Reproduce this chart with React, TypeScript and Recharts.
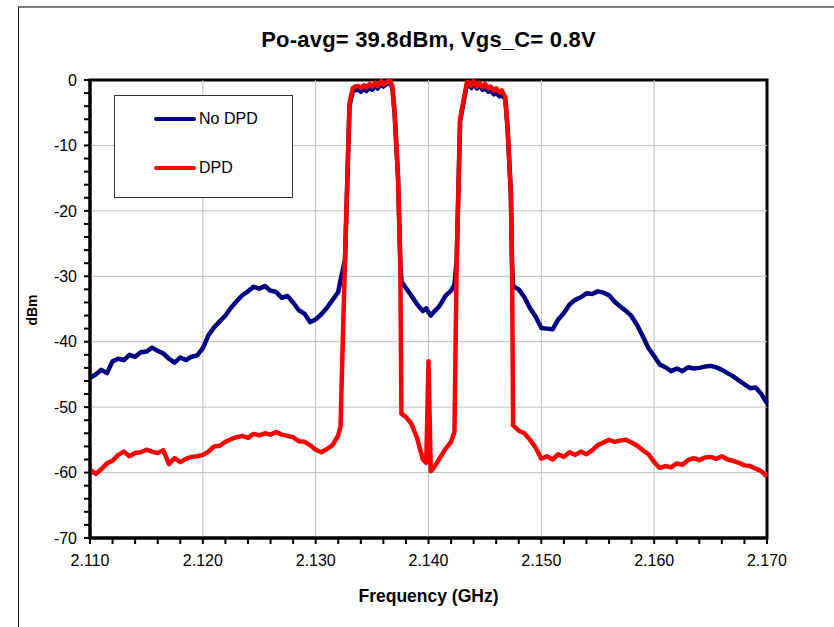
import React from 'react';
import { LineChart, Line, XAxis, YAxis, ReferenceLine, ReferenceArea } from 'recharts';

// frequency grid (GHz) - denser at the channel edges
const FREQ_GHZ = [
  2.110, 2.1105, 2.111, 2.1115, 2.112, 2.1125, 2.113, 2.1135, 2.114, 2.1145,
  2.115, 2.1155, 2.116, 2.1165, 2.117, 2.1175, 2.118, 2.1185, 2.119, 2.1195,
  2.120, 2.1205, 2.121, 2.1215, 2.122, 2.1225, 2.123, 2.1235, 2.124, 2.1245,
  2.125, 2.1255, 2.126, 2.1265, 2.127, 2.1275, 2.128, 2.1285, 2.129, 2.1295,
  2.130, 2.1305, 2.131, 2.1315, 2.132,
  2.1322, 2.1326, 2.1330, 2.1333,
  2.1335, 2.1338, 2.1340, 2.1343, 2.1345, 2.1348, 2.1350, 2.1353, 2.1355, 2.1358, 2.1360, 2.1363, 2.1366,
  2.1368, 2.1370, 2.1373, 2.1375, 2.1376,
  2.1380, 2.1385, 2.1390, 2.1395, 2.1398, 2.1400, 2.1402, 2.1405, 2.1410, 2.1415, 2.1420, 2.1423,
  2.1425, 2.1428, 2.1431, 2.1434,
  2.1435, 2.1438, 2.1440, 2.1443, 2.1445, 2.1448, 2.1450, 2.1453, 2.1455, 2.1458, 2.1460, 2.1463, 2.1465,
  2.1468, 2.1470, 2.1473, 2.1474, 2.1475,
  2.148, 2.1485, 2.149, 2.1495, 2.150, 2.1505, 2.151, 2.1515, 2.152, 2.1525,
  2.153, 2.1535, 2.154, 2.1545, 2.155, 2.1555, 2.156, 2.1565, 2.157, 2.1575,
  2.158, 2.1585, 2.159, 2.1595, 2.160, 2.1605, 2.161, 2.1615, 2.162, 2.1625,
  2.163, 2.1635, 2.164, 2.1645, 2.165, 2.1655, 2.166, 2.1665, 2.167, 2.1675,
  2.168, 2.1685, 2.169, 2.1695, 2.170,
];

const NO_DPD_DBM = [
  -45.5, -45.0, -44.3, -44.8, -43.0, -42.6, -42.8, -42.0, -42.3, -41.6,
  -41.5, -40.9, -41.4, -41.8, -42.6, -43.2, -42.4, -42.8, -42.3, -42.1,
  -41.0, -39.0, -37.8, -36.9, -36.0, -34.8, -33.8, -32.9, -32.3, -31.6,
  -31.9, -31.5, -32.2, -32.4, -33.3, -33.0, -34.0, -35.2, -35.7, -37.0,
  -36.6, -35.8, -34.8, -33.6, -32.4,
  -30.6, -27.5, -4.0, -1.6,
  -1.6, -1.4, -1.8, -1.3, -1.7, -1.1, -1.5, -0.9, -1.3, -0.6, -1.0, -0.6, -0.4,
  -1.3, -5.3, -15.0, -28.0, -30.8,
  -31.8, -33.0, -34.3, -35.3, -34.9, -35.5, -36.0, -35.4, -34.5, -33.0, -32.2, -31.3,
  -27.5, -6.3, -3.5, -0.7,
  -0.6, -1.2, -0.6, -1.3, -0.8, -1.5, -1.2, -1.8, -1.6, -2.2, -2.0, -2.5, -2.3,
  -2.9, -7.2, -17.3, -28.0, -31.5,
  -32.0, -33.2, -34.9, -36.2, -37.9, -38.0, -38.1, -36.6, -35.6, -34.3,
  -33.6, -33.2, -32.6, -32.7, -32.3, -32.5, -32.9, -33.9, -34.6, -35.3,
  -36.1, -37.5, -39.2, -41.0, -42.2, -43.5, -43.9, -44.5, -44.1, -44.5,
  -43.9, -44.1, -44.0, -43.8, -43.7, -43.9, -44.3, -44.8, -45.3, -45.9,
  -46.5, -47.1, -47.0, -48.0, -49.4,
];

const DPD_DBM = [
  -59.6, -60.2, -59.5, -58.6, -58.2, -57.3, -56.8, -57.5, -57.0, -56.9,
  -56.5, -56.8, -57.0, -56.6, -58.7, -57.8, -58.4, -57.9, -57.6, -57.5,
  -57.3, -56.8, -56.0, -55.9, -55.3, -54.9, -54.6, -54.4, -54.7, -54.1,
  -54.3, -54.0, -54.2, -53.8, -54.2, -54.4, -54.6, -55.2, -55.3, -55.8,
  -56.5, -56.9, -56.4, -55.8, -54.3,
  -53.0, -27.5, -3.5, -1.2,
  -1.0, -0.9, -1.2, -0.8, -1.1, -0.6, -1.0, -0.4, -0.9, -0.2, -0.7, -0.3, -0.1,
  -1.0, -5.0, -14.8, -28.0, -51.0,
  -51.5, -52.6, -54.8, -58.0, -58.5, -43.0, -59.8, -59.2, -57.8, -56.4, -55.3, -53.8,
  -27.5, -6.0, -3.2, -0.4,
  -0.3, -0.9, -0.2, -1.0, -0.4, -1.1, -0.6, -1.3, -1.0, -1.6, -1.3, -1.9, -1.6,
  -2.6, -7.0, -17.3, -28.0, -52.8,
  -53.6, -54.0, -55.0, -56.2, -57.9, -57.5, -58.0, -57.2, -57.6, -56.9,
  -57.3, -56.8, -57.2, -56.6, -55.8, -55.4, -55.0, -55.3, -55.1, -55.0,
  -55.4, -55.9, -56.6, -57.2, -58.4, -59.3, -59.0, -59.2, -58.6, -58.8,
  -58.1, -57.8, -58.1, -57.7, -57.6, -57.9, -57.5, -58.0, -58.2, -58.5,
  -58.9, -59.0, -59.4, -59.8, -60.6,
];

const X_TICKS = [
  2.110, 2.112, 2.114, 2.116, 2.118, 2.120, 2.122, 2.124, 2.126, 2.128,
  2.130, 2.132, 2.134, 2.136, 2.138, 2.140, 2.142, 2.144, 2.146, 2.148,
  2.150, 2.152, 2.154, 2.156, 2.158, 2.160, 2.162, 2.164, 2.166, 2.168, 2.170,
];
const X_GRID = [2.120, 2.130, 2.140, 2.150, 2.160];

const Y_TICKS = [
  -70, -68, -66, -64, -62, -60, -58, -56, -54, -52, -50, -48, -46, -44, -42, -40, -38, -36,
  -34, -32, -30, -28, -26, -24, -22, -20, -18, -16, -14, -12, -10, -8, -6, -4, -2, 0,
];
const Y_GRID = [-60, -50, -40, -30, -20, -10];

const data = FREQ_GHZ.map((f, i) => ({ f, noDpd: NO_DPD_DBM[i], dpd: DPD_DBM[i] }));

const FONT = 'Arial, "Liberation Sans", sans-serif';

const renderXTick = (props: any) => {
  const { x, y, payload } = props;
  const v = payload.value;
  if (Math.abs(v * 100 - Math.round(v * 100)) > 1e-6) return <g />;
  return (
    <text x={x} y={y} dy="0.71em" textAnchor="middle" fontSize={16} fill="#000" fontFamily={FONT}>
      {v.toFixed(3)}
    </text>
  );
};

const renderYTick = (props: any) => {
  const { x, y, payload } = props;
  const v = payload.value;
  if (v % 10 !== 0) return <g />;
  return (
    <text x={x} y={y} dy="0.355em" textAnchor="end" fontSize={16} fill="#000" fontFamily={FONT}>
      {v}
    </text>
  );
};

export default function App() {
  return (
    <div
      style={{
        position: 'absolute',
        left: 0,
        top: 0,
        width: 834,
        height: 627,
        background: '#fff',
        overflow: 'hidden',
        fontFamily: FONT,
        color: '#000',
      }}
    >
      {/* outer frame, only top and left visible */}
      <div
        style={{
          position: 'absolute',
          left: 18,
          top: 6,
          width: 900,
          height: 700,
          borderTop: '2px solid #7a7a7a',
          borderLeft: '1px solid #222',
        }}
      />
      <div
        style={{
          position: 'absolute',
          left: 90,
          width: 677,
          top: 29,
          textAlign: 'center',
          fontSize: 22,
          lineHeight: '22px',
          fontWeight: 'bold',
          whiteSpace: 'nowrap',
          letterSpacing: 0.2,
        }}
      >
        Po-avg= 39.8dBm, Vgs_C= 0.8V
      </div>

      <div style={{ position: 'absolute', left: 0, top: 0 }}>
        <LineChart width={834} height={627} data={data} margin={{ top: 80, right: 67, bottom: 39, left: 30 }}>
          {X_GRID.map((v) => (
            <ReferenceLine key={'gx' + v} x={v} stroke="#c0c0c0" strokeWidth={1} />
          ))}
          {Y_GRID.map((v) => (
            <ReferenceLine key={'gy' + v} y={v} stroke="#c0c0c0" strokeWidth={1} />
          ))}
          <XAxis
            dataKey="f"
            type="number"
            domain={[2.11, 2.17]}
            ticks={X_TICKS}
            interval={0}
            tick={renderXTick}
            tickSize={6}
            tickMargin={11}
            tickLine={{ stroke: '#000', strokeWidth: 2 }}
            axisLine={{ stroke: '#000', strokeWidth: 3 }}
            height={50}
          />
          <YAxis
            type="number"
            domain={[-70, 0]}
            ticks={Y_TICKS}
            interval={0}
            tick={renderYTick}
            tickSize={6}
            tickMargin={7}
            tickLine={{ stroke: '#000', strokeWidth: 2 }}
            axisLine={{ stroke: '#000', strokeWidth: 3 }}
            width={60}
          />
          <Line
            dataKey="noDpd"
            stroke="#000080"
            strokeWidth={4.5}
            dot={false}
            strokeLinejoin="round"
            isAnimationActive={false}
          />
          <Line
            dataKey="dpd"
            stroke="#ff0000"
            strokeWidth={4.5}
            dot={false}
            strokeLinejoin="round"
            isAnimationActive={false}
          />
          <ReferenceArea x1={2.11} x2={2.17} y1={-70} y2={0} fill="none" stroke="#000" strokeWidth={3} />
        </LineChart>
      </div>

      {/* legend */}
      <div
        style={{
          position: 'absolute',
          left: 114,
          top: 95,
          width: 179,
          height: 103,
          boxSizing: 'border-box',
          border: '1px solid #333',
          background: '#fff',
        }}
      />
      <div style={{ position: 'absolute', left: 154, top: 117, width: 42, height: 4, borderRadius: 2, background: '#000080' }} />
      <div style={{ position: 'absolute', left: 199, top: 111, fontSize: 16, lineHeight: '16px' }}>No DPD</div>
      <div style={{ position: 'absolute', left: 154, top: 166, width: 42, height: 4, borderRadius: 2, background: '#ff0000' }} />
      <div style={{ position: 'absolute', left: 199, top: 160, fontSize: 16, lineHeight: '16px' }}>DPD</div>

      {/* axis titles */}
      <div
        style={{
          position: 'absolute',
          left: 90,
          width: 677,
          top: 588,
          textAlign: 'center',
          fontSize: 17.5,
          lineHeight: '17.5px',
          fontWeight: 'bold',
        }}
      >
        Frequency (GHz)
      </div>
      <div
        style={{
          position: 'absolute',
          left: 32,
          top: 310,
          transform: 'translate(-50%, -50%) rotate(-90deg)',
          fontSize: 14,
          lineHeight: '14px',
          fontWeight: 'bold',
          whiteSpace: 'nowrap',
        }}
      >
        dBm
      </div>
    </div>
  );
}
